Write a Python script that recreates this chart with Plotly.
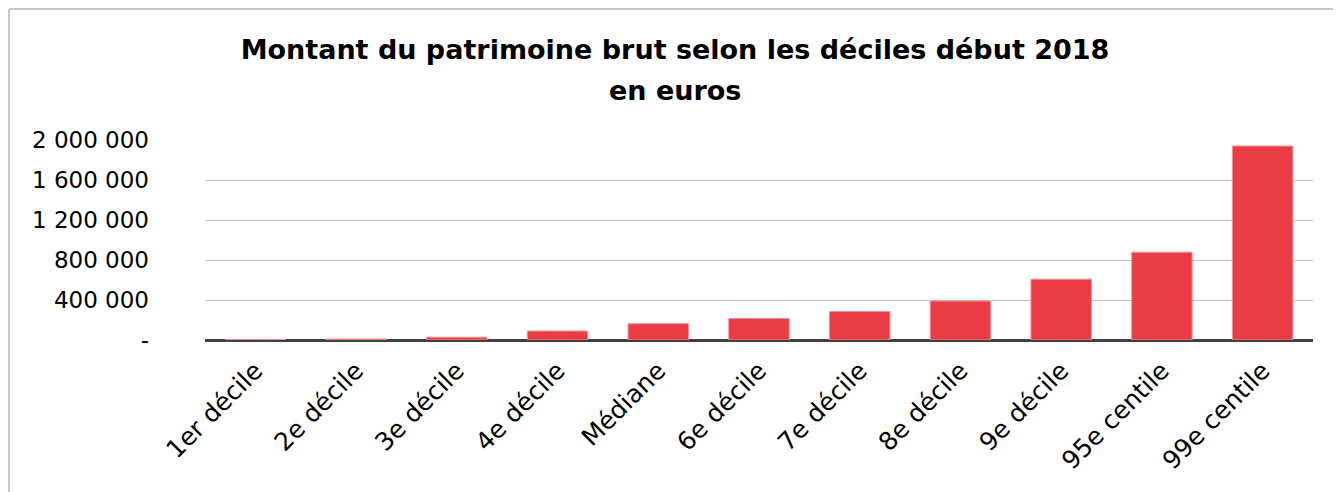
import plotly.graph_objects as go

categories = ["1er décile", "2e décile", "3e décile", "4e décile", "Médiane",
              "6e décile", "7e décile", "8e décile", "9e décile",
              "95e centile", "99e centile"]
values = [3800, 10000, 28000, 90000, 163000, 215000, 285000, 390000, 608000, 878000, 1940000]
tick_vals = [0, 400000, 800000, 1200000, 1600000, 2000000]
tick_text = ["-", "400 000", "800 000", "1 200 000", "1 600 000", "2 000 000"]
title_line1 = "Montant du patrimoine brut selon les déciles début 2018"
title_line2 = "en euros"

FONT = "DejaVu Sans"

fig = go.Figure()
fig.add_trace(go.Bar(
    x=categories, y=values,
    marker=dict(color="#E93C44", line=dict(color="#F29096", width=1)),
    width=0.6,
))

# page has an 8px body margin: figure origin sits at page (8, 8)
W, H = 1333, 484
L, R, T, B = 197, 28, 132, 152
pw, ph = W - L - R, H - T - B

fig.update_layout(
    width=W, height=H,
    margin=dict(l=L, r=R, t=T, b=B, pad=0),
    paper_bgcolor="white", plot_bgcolor="white",
    showlegend=False,
    font=dict(family=FONT, color="#000000", size=22),
    title=dict(
        text="<b>" + title_line1 + "</b>",
        x=(675 - 8) / W, xanchor="center", y=1 - 42 / H, yanchor="middle",
        font=dict(family=FONT, size=27, color="#000000"),
    ),
    annotations=[dict(
        text="<b>" + title_line2 + "</b>", xref="paper", yref="paper",
        x=(675 - 8 - L) / pw, y=(H - B - 82) / ph, xanchor="center", yanchor="middle",
        showarrow=False, font=dict(family=FONT, size=27, color="#000000"),
    )],
    xaxis=dict(
        tickangle=-45, showgrid=False, showline=False, ticks="",
        ticklabelstandoff=10,
        tickfont=dict(family=FONT, size=25, color="#000000"),
    ),
    yaxis=dict(
        range=[0, 2000000], tickvals=tick_vals, ticktext=tick_text,
        showgrid=True, gridcolor="#BFBFBF", gridwidth=1,
        zeroline=True, zerolinecolor="#404040", zerolinewidth=3,
        showline=False, ticks="", ticklabelstandoff=55,
        tickfont=dict(family=FONT, size=23, color="#000000"),
    ),
)

# outer chart frame (light grey border along top and left edges)
x_left = (1 - L) / pw
y_top = (H - B - 1) / ph
fig.add_shape(type="line", xref="paper", yref="paper",
              x0=x_left, x1=(W + 20 - L) / pw, y0=y_top, y1=y_top,
              line=dict(color="#C8C8C8", width=2))
fig.add_shape(type="line", xref="paper", yref="paper",
              x0=x_left, x1=x_left, y0=y_top, y1=-(B + 20) / ph,
              line=dict(color="#C8C8C8", width=2))

fig.write_html("out.html")
